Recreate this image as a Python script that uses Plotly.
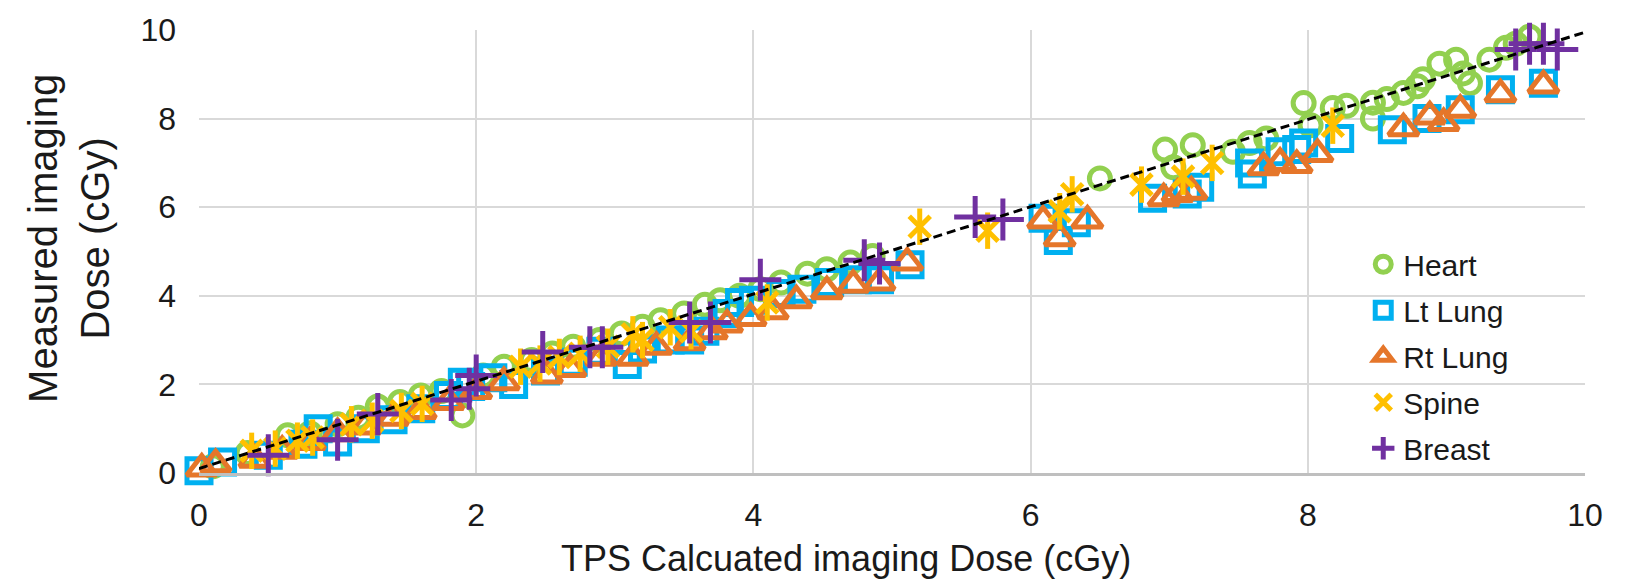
import plotly.graph_objects as go

# ---- data ----
heart_x = [0.10, 0.35, 0.64, 0.80, 1.00, 1.15, 1.29, 1.45, 1.60, 1.75, 1.90, 2.05, 2.20, 2.40, 2.55,
           2.70, 2.89, 3.05, 3.20, 3.33, 3.50, 3.65, 3.76, 3.90, 4.05, 4.20, 4.39, 4.53, 4.70, 4.86,
           6.50, 6.97, 7.03, 7.17, 7.46, 7.58, 7.70, 7.97, 8.02, 8.18, 8.28, 8.47, 8.47, 8.57, 8.69,
           8.79, 8.83, 8.95, 9.07, 9.12, 9.17, 9.31, 9.43, 9.50, 9.60]
heart_y = [0.15, 0.45, 0.85, 0.90, 1.10, 1.25, 1.50, 1.60, 1.75, 1.85, 1.30, 2.20, 2.40, 2.55, 2.70,
           2.85, 3.00, 3.15, 3.30, 3.45, 3.60, 3.80, 3.90, 4.00, 4.15, 4.30, 4.50, 4.60, 4.75, 4.90,
           6.65, 7.30, 6.90, 7.40, 7.25, 7.45, 7.55, 8.35, 7.85, 8.24, 8.29, 8.36, 8.00, 8.44, 8.58,
           8.73, 8.89, 9.24, 9.33, 9.02, 8.80, 9.33, 9.60, 9.69, 9.85]

lt_x = [0.00, 0.17, 0.50, 0.75, 0.86, 1.00, 1.20, 1.40, 1.60, 1.80, 1.90, 1.96, 2.12, 2.27, 2.50,
        2.70, 2.90, 3.09, 3.20, 3.40, 3.54, 3.65, 3.81, 3.90, 4.00, 4.20, 4.35, 4.55, 4.75, 4.91,
        5.13, 6.09, 6.20, 6.33, 6.88, 7.13, 7.22, 7.58, 7.60, 7.80, 7.92, 7.97, 8.23, 8.61, 8.86,
        9.10, 9.39, 9.70]
lt_y = [0.05, 0.25, 0.40, 0.65, 1.00, 0.70, 1.00, 1.20, 1.45, 1.75, 2.05, 1.95, 2.15, 2.00, 2.30,
        2.50, 2.75, 2.45, 2.80, 3.00, 3.00, 3.20, 3.60, 3.85, 3.90, 4.05, 4.15, 4.30, 4.36, 4.36,
        4.70, 5.75, 5.25, 5.65, 6.20, 6.30, 6.45, 7.00, 6.75, 7.25, 7.30, 7.45, 7.55, 7.75, 8.00,
        8.20, 8.65, 8.80]

rt_x = [0.02, 0.12, 0.40, 0.60, 0.80, 1.00, 1.20, 1.40, 1.60, 1.80, 2.00, 2.20, 2.51, 2.68, 2.90,
        3.13, 3.30, 3.54, 3.70, 3.81, 3.98, 4.14, 4.31, 4.53, 4.72, 4.91, 5.11, 6.09, 6.21, 6.41,
        6.96, 7.06, 7.16, 7.68, 7.80, 7.92, 8.07, 8.69, 8.88, 8.98, 9.10, 9.39, 9.70]
rt_y = [0.10, 0.20, 0.30, 0.50, 0.70, 0.90, 1.05, 1.25, 1.40, 1.60, 1.85, 2.05, 2.20, 2.35, 2.60,
        2.60, 2.85, 2.95, 3.20, 3.35, 3.50, 3.65, 3.90, 4.10, 4.25, 4.30, 4.75, 5.70, 5.30, 5.70,
        6.20, 6.30, 6.35, 6.90, 7.00, 6.95, 7.20, 7.78, 8.05, 7.90, 8.20, 8.55, 8.75]

sp_x = [0.38, 0.55, 0.71, 0.82, 1.10, 1.25, 1.46, 1.61, 2.32, 2.46, 2.60, 2.75, 2.95, 3.13, 3.20,
        3.40, 3.55, 4.10, 5.20, 5.69, 6.21, 6.30, 6.80, 7.10, 7.31, 8.18]
sp_y = [0.50, 0.55, 0.73, 0.80, 1.10, 1.18, 1.40, 1.56, 2.40, 2.47, 2.62, 2.69, 2.85, 3.13, 3.00,
        3.29, 3.20, 3.85, 5.56, 5.47, 5.91, 6.29, 6.51, 6.69, 7.00, 7.84]

br_x = [0.50, 1.00, 1.29, 1.82, 1.95, 2.00, 2.48, 2.82, 2.91, 3.54, 3.69, 4.05, 4.80, 4.91, 5.60,
        5.80, 9.50, 9.60, 9.70, 9.80]
br_y = [0.40, 0.75, 1.33, 1.65, 1.90, 2.20, 2.73, 2.84, 2.84, 3.40, 3.40, 4.36, 4.80, 4.73, 5.78,
        5.72, 9.56, 9.69, 9.69, 9.56]

trend_x = [0.0, 10.0]
trend_y = [0.10, 9.95]

tick_vals = [0, 2, 4, 6, 8, 10]
tick_text = ["0", "2", "4", "6", "8", "10"]

FONT = "Liberation Sans, Arial, sans-serif"
TXT = "#1a1a1a"

fig = go.Figure()

def add(x, y, name, symbol, color, size, lw=5, showlegend=True, group=None):
    fig.add_trace(go.Scatter(
        x=x, y=y, mode="markers", name=name, showlegend=showlegend,
        legendgroup=group or name, cliponaxis=False,
        marker=dict(symbol=symbol, size=size, color=color,
                    line=dict(color=color, width=lw)),
    ))

add(heart_x, heart_y, "Heart", "circle-open", "#92D050", 21)
add(lt_x, lt_y, "Lt Lung", "square-open", "#00B0F0", 24)
add(rt_x, rt_y, "Rt Lung", "triangle-up-open", "#E5762A", 26)
add(sp_x, sp_y, "Spine", "x-thin-open", "#FFC000", 21)
add(sp_x, sp_y, "Spine", "line-ns-open", "#FFC000", 26, showlegend=False, group="Spine")
add(br_x, br_y, "Breast", "cross-thin-open", "#7030A0", 30)

fig.add_trace(go.Scatter(
    x=trend_x, y=trend_y, mode="lines", showlegend=False, hoverinfo="skip",
    line=dict(color="black", width=3, dash="9px,5px"),
))

fig.update_layout(
    width=1629, height=584,
    margin=dict(l=199, r=44, t=23, b=111),
    paper_bgcolor="white", plot_bgcolor="white",
    font=dict(family=FONT, color=TXT, size=30),
    legend=dict(x=0.84, y=0.53, xanchor="left", yanchor="top",
                font=dict(size=30, family=FONT, color=TXT),
                bgcolor="rgba(255,255,255,0)", itemsizing="trace",
                tracegroupgap=4),
    xaxis=dict(range=[0, 10], tickvals=tick_vals, ticktext=tick_text,
               showgrid=True, gridcolor="#d9d9d9", gridwidth=2,
               zeroline=False, showline=True, linecolor="#bfbfbf", linewidth=3,
               ticks="", ticklabelstandoff=12,
               tickfont=dict(size=32, family=FONT, color=TXT)),
    yaxis=dict(range=[0, 10], tickvals=tick_vals, ticktext=tick_text,
               showgrid=True, gridcolor="#d9d9d9", gridwidth=2,
               zeroline=False, showline=False,
               ticks="", ticklabelstandoff=22,
               tickfont=dict(size=32, family=FONT, color=TXT)),
    annotations=[
        dict(text="TPS Calcuated imaging Dose (cGy)", xref="paper", yref="paper",
             x=0.467, y=-0.244, xanchor="center", yanchor="bottom", showarrow=False,
             font=dict(size=36, family=FONT, color=TXT)),
        dict(text="Measured imaging<br>Dose (cGy)", xref="paper", yref="paper",
             x=-0.094, y=0.53, xanchor="center", yanchor="middle", showarrow=False,
             textangle=-90, font=dict(size=40, family=FONT, color=TXT)),
    ],
)

fig.write_html("out.html")
